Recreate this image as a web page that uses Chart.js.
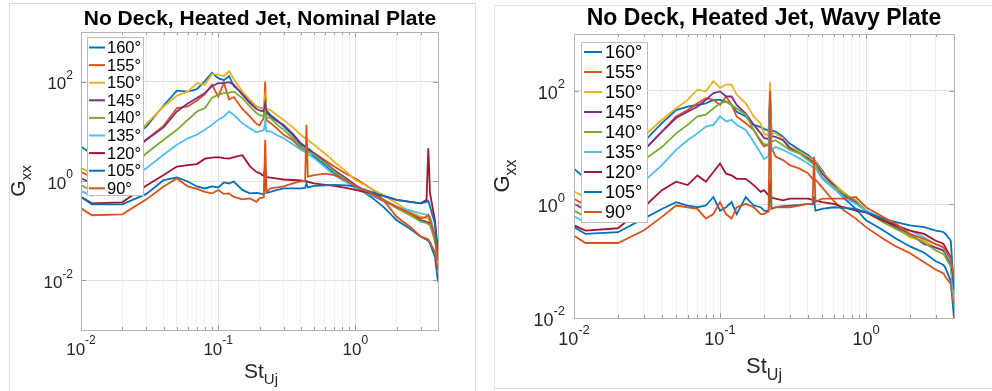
<!DOCTYPE html>
<html lang="en">
<head>
    <meta charset="UTF-8">
    <title>No Deck, Heated Jet - Gxx spectra</title>
    <style>
        body { margin: 0; background: #fff; width: 992px; height: 391px; overflow: hidden; position: relative; }
        .frame { position: absolute; box-sizing: border-box; }
        #leftFrame { left: 9px; top: 3px; width: 467px; height: 400px; border: 1px solid #dadada; }
        #rightFrame { left: 494px; top: 5px; width: 520px; height: 384px; border: 1px solid #e2e2e2; }
        canvas { position: absolute; top: 0; }
        #nominalChart { left: 0; }
        #wavyChart { left: 486px; }
    </style>
</head>
<body>
    <div class="frame" id="leftFrame"></div>
    <div class="frame" id="rightFrame"></div>
    <canvas id="nominalChart" width="496" height="391"></canvas>
    <canvas id="wavyChart" width="506" height="391"></canvas>

    <script src="https://cdn.jsdelivr.net/npm/chart.js@4.4.1/dist/chart.umd.min.js"></script>
    <script>
        // Strouhal number St_Uj (shared x values)
        const stUj = [0.01, 0.012, 0.02, 0.03, 0.04, 0.05, 0.06, 0.07, 0.08, 0.09, 0.1, 0.11, 0.12, 0.13, 0.15, 0.17, 0.19, 0.2,
            0.215, 0.22, 0.225, 0.24, 0.27, 0.3, 0.35, 0.4, 0.43, 0.44, 0.45, 0.5, 0.6, 0.7, 0.85, 1, 1.3, 1.6, 2, 2.5, 3,
            3.3, 3.4, 3.5, 3.8, 4];

        const angles = ['160°', '155°', '150°', '145°', '140°', '135°', '120°', '105°', '90°'];
        const colors = ['#0072BD', '#D95319', '#EDB120', '#7E2F8E', '#77AC30', '#4DBEEE', '#A2142F', '#0072BD', '#D95319'];

        // tick labels (powers of ten)
        const xTickExps = [-2, -1, 0];
        const yTickExps = [-2, 0, 2];

        // log10(Gxx) - nominal plate
        const nominal160 = [0.69, 0.55, 0.70, 1.10, 1.52, 1.82, 1.80, 1.85, 2.01, 2.18, 2.07, 2.03, 2.11, 1.91, 1.77, 1.60, 1.50, 1.48, 1.45, 1.62, 1.42, 1.33, 1.22, 1.10, 0.92, 0.73, 0.68, 0.66, 0.64, 0.49, 0.32, 0.15, 0.02, -0.11, -0.32, -0.52, -0.79, -0.96, -1.12, -1.18, -1.20, -1.26, -1.53, -2.03];
        const nominal155 = [0.18, 0.08, 0.45, 0.84, 1.11, 1.47, 1.50, 1.62, 1.75, 1.94, 1.70, 1.98, 1.64, 1.69, 1.45, 1.30, 1.15, 1.12, 1.27, 2.00, 1.22, 1.17, 1.05, 0.93, 0.82, 0.66, 0.62, 0.60, 0.59, 0.56, 0.42, 0.29, 0.15, 0.05, -0.15, -0.38, -0.72, -0.92, -1.12, -1.16, -1.18, -1.23, -1.43, -1.80];
        const nominal150 = [0.26, 0.15, 0.60, 1.15, 1.50, 1.72, 1.80, 1.97, 1.94, 2.15, 2.14, 2.11, 2.21, 2.05, 1.80, 1.64, 1.50, 1.47, 1.45, 1.70, 1.45, 1.43, 1.32, 1.23, 1.08, 0.93, 0.86, 0.84, 0.82, 0.73, 0.55, 0.39, 0.20, 0.02, -0.15, -0.28, -0.45, -0.62, -0.72, -0.74, -0.76, -0.86, -1.12, -1.53];
        const nominal145 = [0.06, -0.05, 0.40, 0.83, 1.08, 1.40, 1.56, 1.67, 1.77, 1.91, 1.97, 1.97, 1.99, 1.94, 1.74, 1.57, 1.45, 1.42, 1.40, 1.57, 1.38, 1.30, 1.20, 1.13, 0.95, 0.76, 0.70, 0.68, 0.66, 0.56, 0.38, 0.22, 0.06, -0.08, -0.28, -0.40, -0.52, -0.65, -0.79, -0.82, -0.84, -0.86, -1.19, -1.60];
        const nominal140 = [-0.08, -0.20, 0.10, 0.56, 0.83, 1.03, 1.23, 1.40, 1.47, 1.67, 1.74, 1.77, 1.78, 1.80, 1.67, 1.50, 1.37, 1.33, 1.30, 1.40, 1.28, 1.27, 1.13, 1.03, 0.86, 0.69, 0.63, 0.61, 0.60, 0.53, 0.36, 0.19, 0.03, -0.11, -0.25, -0.38, -0.55, -0.69, -0.82, -0.85, -0.87, -0.89, -1.19, -1.60];
        const nominal135 = [-0.20, -0.30, -0.10, 0.26, 0.53, 0.73, 0.86, 0.93, 1.03, 1.13, 1.23, 1.30, 1.40, 1.33, 1.16, 1.06, 0.98, 1.00, 1.02, 1.20, 1.00, 1.00, 0.92, 0.86, 0.74, 0.63, 0.58, 0.56, 0.55, 0.46, 0.28, 0.12, -0.02, -0.15, -0.28, -0.38, -0.52, -0.59, -0.65, -0.68, -0.70, -0.72, -1.06, -1.53];
        const nominal120 = [-0.32, -0.45, -0.43, -0.09, 0.12, 0.29, 0.32, 0.34, 0.45, 0.47, 0.48, 0.46, 0.45, 0.48, 0.52, 0.30, 0.18, 0.16, 0.10, 0.30, 0.08, 0.07, 0.05, 0.03, 0.02, 0.01, -0.01, 0.00, -0.02, -0.05, -0.08, -0.10, -0.14, -0.18, -0.25, -0.30, -0.38, -0.42, -0.45, -0.38, 0.66, -0.25, -0.80, -1.43];
        const nominal105 = [-0.32, -0.47, -0.47, -0.26, 0.02, 0.07, -0.01, -0.11, -0.15, -0.11, -0.13, -0.03, -0.05, -0.01, -0.18, -0.25, -0.24, -0.25, -0.27, 0.20, -0.24, -0.22, -0.18, -0.15, -0.15, -0.15, -0.14, -0.05, -0.13, -0.10, -0.09, -0.08, -0.09, -0.11, -0.22, -0.30, -0.38, -0.42, -0.45, -0.42, -0.40, -0.52, -0.86, -1.50];
        const nominal90 = [-0.55, -0.69, -0.67, -0.37, -0.11, 0.05, -0.11, -0.16, -0.22, -0.25, -0.18, -0.26, -0.25, -0.32, -0.37, -0.35, -0.42, -0.35, -0.33, 0.83, -0.22, -0.15, -0.13, -0.11, -0.05, -0.01, 0.00, 1.13, 0.09, 0.12, 0.15, 0.12, 0.02, -0.10, -0.25, -0.38, -0.52, -0.65, -0.75, -0.72, -0.68, -0.78, -1.12, -1.60];

        // log10(Gxx) - wavy plate
        const wavy160 = [0.63, 0.45, 0.80, 1.10, 1.43, 1.66, 1.72, 1.75, 1.78, 1.84, 1.84, 1.81, 1.75, 1.63, 1.55, 1.40, 1.36, 1.33, 1.30, 1.80, 1.30, 1.28, 1.19, 1.07, 0.96, 0.87, 0.80, 0.78, 0.76, 0.60, 0.30, 0.12, -0.08, -0.28, -0.45, -0.60, -0.74, -0.85, -1.00, -1.05, -1.07, -1.12, -1.35, -2.00];
        const wavy155 = [0.10, -0.02, 0.50, 0.95, 1.28, 1.55, 1.66, 1.78, 1.87, 1.84, 1.75, 1.90, 1.75, 1.55, 1.43, 1.31, 1.10, 1.02, 1.05, 1.20, 1.00, 0.84, 0.78, 0.69, 0.63, 0.55, 0.45, 0.45, 0.44, 0.30, 0.06, -0.10, -0.25, -0.40, -0.60, -0.74, -0.86, -1.02, -1.15, -1.20, -1.22, -1.28, -1.40, -1.78];
        const wavy150 = [0.23, 0.12, 0.70, 1.20, 1.49, 1.69, 1.84, 2.02, 1.99, 2.17, 2.05, 2.11, 2.11, 1.93, 1.78, 1.55, 1.42, 1.24, 1.22, 2.16, 1.25, 1.25, 1.16, 1.01, 0.93, 0.84, 0.78, 0.77, 0.75, 0.57, 0.37, 0.22, 0.04, -0.14, -0.31, -0.40, -0.58, -0.64, -0.76, -0.80, -0.81, -0.84, -0.99, -1.64];
        const wavy145 = [0.01, -0.10, 0.50, 0.95, 1.28, 1.52, 1.63, 1.72, 1.84, 1.96, 1.99, 1.90, 1.90, 1.75, 1.60, 1.40, 1.25, 1.17, 1.15, 1.98, 1.20, 1.19, 1.13, 0.99, 0.90, 0.81, 0.75, 0.74, 0.72, 0.54, 0.34, 0.16, 0.04, -0.11, -0.28, -0.40, -0.52, -0.70, -0.76, -0.80, -0.82, -0.87, -1.05, -1.64];
        const wavy140 = [-0.11, -0.22, 0.30, 0.78, 1.01, 1.25, 1.40, 1.55, 1.58, 1.69, 1.78, 1.81, 1.75, 1.69, 1.58, 1.31, 1.13, 1.06, 1.05, 1.70, 1.10, 1.13, 1.04, 0.96, 0.90, 0.78, 0.72, 0.71, 0.70, 0.48, 0.31, 0.19, 0.07, -0.11, -0.31, -0.43, -0.55, -0.67, -0.81, -0.86, -0.88, -0.93, -1.10, -1.68];
        const wavy135 = [-0.21, -0.32, 0.00, 0.40, 0.69, 0.96, 1.13, 1.25, 1.37, 1.40, 1.55, 1.46, 1.49, 1.40, 1.31, 1.10, 0.90, 0.80, 0.85, 1.87, 0.95, 1.01, 0.96, 0.90, 0.81, 0.72, 0.66, 0.65, 0.64, 0.45, 0.28, 0.13, 0.01, -0.11, -0.25, -0.37, -0.46, -0.58, -0.70, -0.75, -0.77, -0.84, -1.00, -1.68];
        const wavy120 = [-0.37, -0.46, -0.42, -0.05, 0.25, 0.40, 0.34, 0.51, 0.40, 0.57, 0.72, 0.54, 0.51, 0.45, 0.45, 0.34, 0.22, 0.25, 0.16, 0.35, 0.12, 0.10, 0.07, 0.10, 0.10, 0.10, 0.08, 0.12, 0.07, 0.04, 0.01, -0.05, -0.11, -0.14, -0.28, -0.37, -0.46, -0.52, -0.64, -0.68, -0.70, -0.76, -0.93, -1.40];
        const wavy105 = [-0.40, -0.52, -0.49, -0.25, -0.08, 0.04, -0.02, -0.05, -0.02, 0.13, -0.11, -0.05, 0.04, -0.17, 0.13, -0.02, -0.05, -0.11, -0.12, 0.30, -0.08, -0.05, -0.03, -0.02, -0.01, 0.01, 0.00, 0.08, -0.11, -0.08, -0.05, -0.06, -0.08, -0.14, -0.25, -0.31, -0.37, -0.40, -0.46, -0.48, -0.49, -0.52, -0.64, -1.50];
        const wavy90 = [-0.55, -0.68, -0.68, -0.46, -0.22, -0.02, -0.05, -0.08, -0.25, -0.17, 0.04, -0.17, -0.25, -0.05, 0.01, -0.05, -0.17, -0.17, -0.12, 2.00, -0.08, -0.05, -0.05, -0.05, -0.02, 0.01, 0.01, 0.84, 0.04, 0.10, 0.10, 0.10, 0.13, -0.05, -0.22, -0.34, -0.52, -0.61, -0.70, -0.74, -0.76, -0.81, -0.95, -1.30];

        const FONT = '"Liberation Sans", Arial, Helvetica, sans-serif';
        const TEXT = '#262626';

        // x grid: decades plus 2..9 minor lines
        function xGridValues(max) {
            const vals = [];
            for (let d = -2; d <= 0; d++) {
                for (let m = 1; m <= 9; m++) {
                    const v = m * Math.pow(10, d);
                    if (v <= max + 1e-9) vals.push(v);
                }
            }
            return vals;
        }

        function isDecade(v) {
            const l = Math.log10(v);
            return Math.abs(l - Math.round(l)) < 1e-6;
        }

        // "10" with a raised exponent
        function drawPow(ctx, exp, x, y, size, align) {
            const supSize = Math.round(size * 0.7);
            ctx.font = size + 'px ' + FONT;
            const wb = ctx.measureText('10').width;
            ctx.font = supSize + 'px ' + FONT;
            const ws = ctx.measureText(String(exp)).width;
            const x0 = align === 'right' ? x - wb - ws : x - (wb + ws) / 2;
            ctx.textAlign = 'left';
            ctx.textBaseline = 'middle';
            ctx.fillStyle = TEXT;
            ctx.font = size + 'px ' + FONT;
            ctx.fillText('10', x0, y);
            ctx.font = supSize + 'px ' + FONT;
            ctx.fillText(String(exp), x0 + wb, y - size * 0.52);
        }

        // text with a lowered subscript, centred on x
        function drawSub(ctx, main, sub, x, y, size) {
            const subSize = Math.round(size * 0.72);
            ctx.font = size + 'px ' + FONT;
            const wm = ctx.measureText(main).width;
            ctx.font = subSize + 'px ' + FONT;
            const wsub = ctx.measureText(sub).width;
            const x0 = x - (wm + wsub) / 2;
            ctx.textAlign = 'left';
            ctx.textBaseline = 'alphabetic';
            ctx.fillStyle = TEXT;
            ctx.font = size + 'px ' + FONT;
            ctx.fillText(main, x0, y);
            ctx.font = subSize + 'px ' + FONT;
            ctx.fillText(sub, x0 + wm, y + size * 0.3);
        }

        const matlabAxes = {
            id: 'matlabAxes',
            afterDraw(chart, args, o) {
                const { ctx, chartArea: a, scales } = chart;
                const xs = scales.x, ys = scales.y;
                ctx.save();

                // tick marks (inward), both sides
                ctx.strokeStyle = '#9a9a9a';
                ctx.lineWidth = 1;
                ctx.beginPath();
                xGridValues(o.xMax).forEach(v => {
                    const px = Math.round(xs.getPixelForValue(v)) + 0.5;
                    const len = isDecade(v) ? 5 : 3;
                    ctx.moveTo(px, a.bottom); ctx.lineTo(px, a.bottom - len);
                    ctx.moveTo(px, a.top); ctx.lineTo(px, a.top + len);
                });
                yTickExps.forEach(e => {
                    const py = Math.round(ys.getPixelForValue(Math.pow(10, e))) + 0.5;
                    ctx.moveTo(a.left, py); ctx.lineTo(a.left + 5, py);
                    ctx.moveTo(a.right, py); ctx.lineTo(a.right - 5, py);
                });
                ctx.stroke();

                // axes box
                ctx.strokeStyle = '#b4b4b4';
                ctx.strokeRect(Math.round(a.left) + 0.5, Math.round(a.top) + 0.5,
                    Math.round(a.right - a.left), Math.round(a.bottom - a.top));

                // tick labels
                xTickExps.forEach(e => {
                    drawPow(ctx, e, xs.getPixelForValue(Math.pow(10, e)), a.bottom + o.xTickDy, o.tickSize, 'center');
                });
                yTickExps.forEach(e => {
                    const py = ys.getPixelForValue(Math.pow(10, e));
                    drawPow(ctx, e, a.left - o.yTickGap, py + 3, o.tickSize, 'right');
                });

                // axis labels
                drawSub(ctx, 'St', 'Uj', o.xLabelX, o.xLabelY, o.labelSize);
                ctx.save();
                ctx.translate(o.yLabelX, o.yLabelY);
                ctx.rotate(-Math.PI / 2);
                drawSub(ctx, 'G', 'xx', 0, 0, o.labelSize);
                ctx.restore();

                // title
                ctx.fillStyle = '#000';
                ctx.font = 'bold ' + o.titleSize + 'px ' + FONT;
                ctx.textAlign = 'center';
                ctx.textBaseline = 'middle';
                ctx.fillText(o.title, o.titleX, o.titleY);

                // legend box inside the axes
                const L = o.legend;
                ctx.fillStyle = '#fff';
                ctx.fillRect(L.x, L.y, L.w, L.h);
                ctx.strokeStyle = '#bdbdbd';
                ctx.strokeRect(L.x + 0.5, L.y + 0.5, L.w, L.h);
                ctx.font = L.size + 'px ' + FONT;
                ctx.textAlign = 'left';
                ctx.textBaseline = 'middle';
                angles.forEach((lab, i) => {
                    const cy = L.first + L.step * i;
                    ctx.strokeStyle = colors[i];
                    ctx.lineWidth = 2;
                    ctx.beginPath();
                    ctx.moveTo(L.lineX0, cy);
                    ctx.lineTo(L.lineX1, cy);
                    ctx.stroke();
                    ctx.fillStyle = '#000';
                    ctx.fillText(lab, L.textX, cy + 1);
                });
                ctx.restore();
            }
        };

        function buildDatasets(series) {
            return series.map((vals, i) => ({
                label: angles[i],
                data: stUj.map((x, k) => ({ x: x, y: Math.pow(10, vals[k]) })),
                borderColor: colors[i],
                backgroundColor: colors[i],
                borderWidth: 1.8,
                pointRadius: 0,
                tension: 0,
                order: series.length - i
            }));
        }

        function makeChart(id, series, cfg) {
            const gridVals = xGridValues(cfg.xMax);
            return new Chart(document.getElementById(id), {
                type: 'line',
                data: { datasets: buildDatasets(series) },
                options: {
                    responsive: false,
                    animation: false,
                    devicePixelRatio: 1,
                    layout: { padding: cfg.padding },
                    plugins: {
                        legend: { display: false },
                        tooltip: { enabled: false },
                        matlabAxes: cfg.axes
                    },
                    scales: {
                        x: {
                            type: 'logarithmic',
                            min: 0.01,
                            max: cfg.xMax,
                            afterBuildTicks: s => { s.ticks = gridVals.map(v => ({ value: v })); },
                            afterFit: s => { s.height = 0; },
                            ticks: { display: false },
                            border: { display: false },
                            grid: {
                                drawTicks: false,
                                color: c => isDecade(c.tick.value) ? '#e2e2e2' : '#f1f1f1',
                                lineWidth: 1
                            }
                        },
                        y: {
                            type: 'logarithmic',
                            min: cfg.yMin,
                            max: 1000,
                            afterBuildTicks: s => { s.ticks = yTickExps.map(e => ({ value: Math.pow(10, e) })); },
                            afterFit: s => { s.width = 0; },
                            ticks: { display: false },
                            border: { display: false },
                            grid: { drawTicks: false, color: '#e2e2e2', lineWidth: 1 }
                        }
                    }
                },
                plugins: [matlabAxes]
            });
        }

        makeChart('nominalChart',
            [nominal160, nominal155, nominal150, nominal145, nominal140, nominal135, nominal120, nominal105, nominal90], {
            xMax: 4,
            yMin: 0.001,
            padding: { left: 81, right: 58, top: 32, bottom: 61 },
            axes: {
                xMax: 4,
                title: 'No Deck, Heated Jet, Nominal Plate',
                titleX: 260, titleY: 19, titleSize: 21,
                tickSize: 17, xTickDy: 20, yTickGap: 8,
                labelSize: 21,
                xLabelX: 261, xLabelY: 378,
                yLabelX: 25, yLabelY: 181,
                legend: { x: 87, y: 37, w: 56, h: 158, first: 47.5, step: 17.6, size: 16.5, lineX0: 89, lineX1: 105, textX: 107 }
            }
        });

        makeChart('wavyChart',
            [wavy160, wavy155, wavy150, wavy145, wavy140, wavy135, wavy120, wavy105, wavy90], {
            xMax: 4,
            yMin: 0.01,
            padding: { left: 88, right: 38, top: 34, bottom: 73 },
            axes: {
                xMax: 4,
                title: 'No Deck, Heated Jet, Wavy Plate',
                titleX: 278, titleY: 19, titleSize: 23,
                tickSize: 18, xTickDy: 22, yTickGap: 9,
                labelSize: 22,
                xLabelX: 278, xLabelY: 373,
                yLabelX: 23, yLabelY: 176,
                legend: { x: 95, y: 42, w: 66, h: 180, first: 52, step: 20, size: 18, lineX0: 98, lineX1: 116, textX: 119 }
            }
        });
    </script>
</body>
</html>
